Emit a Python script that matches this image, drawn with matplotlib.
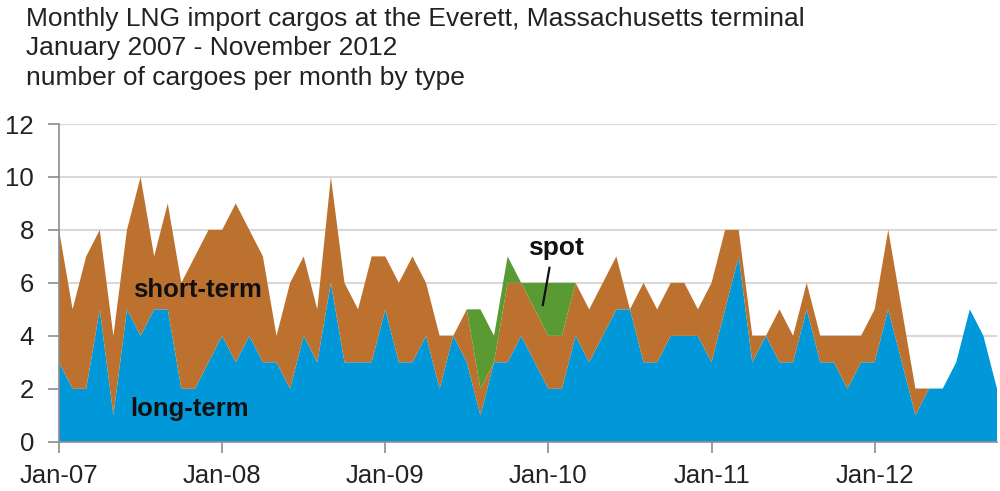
import matplotlib
matplotlib.use("Agg")
import matplotlib.pyplot as plt
import numpy as np

# Monthly cargoes, Jan 2007 onward
long_term = [3,2,2,5,1,5,4,5,5,2,2,3,4,3,4,3,3,2,4,3,6,3,3,3,5,3,3,4,2,4,
             3,1,3,3,4,3,2,2,4,3,4,5,5,3,3,4,4,4,3,5,7,3,4,3,3,5,3,3,2,3,
             3,5,3,1,2,2,3,5,4,2]
short_term = [5,3,5,3,3,3,6,2,4,4,5,5,4,6,4,4,1,4,3,2,4,3,2,4,2,3,4,2,2,0,
              2,1,0,3,2,2,2,2,2,2,2,2,0,3,2,2,2,1,3,3,1,1,0,2,1,1,1,1,2,1,
              2,3,2,1,0,0,0,0,0,0]
spot = [0,0,0,0,0,0,0,0,0,0,0,0,0,0,0,0,0,0,0,0,0,0,0,0,0,0,0,0,0,0,
        0,3,1,1,0,1,2,2,0,0,0,0,0,0,0,0,0,0,0,0,0,0,0,0,0,0,0,0,0,0,
        0,0,0,0,0,0,0,0,0,0]
tick_labels = ["Jan-07", "Jan-08", "Jan-09", "Jan-10", "Jan-11", "Jan-12"]
title_lines = ["Monthly LNG import cargos at the Everett, Massachusetts terminal",
               "January 2007 - November 2012",
               "number of cargoes per month by type"]

plt.rcParams['font.family'] = ['Liberation Sans', 'DejaVu Sans']

fig = plt.figure(figsize=(10, 4.91), dpi=100)
ax = fig.add_axes([0.059, 0.1004, 0.938, 0.647])

x = np.arange(len(long_term))
ax.stackplot(x, long_term, short_term, spot,
             colors=["#0098D8", "#BC722E", "#5A9A32"], linewidth=0)

ax.set_xlim(0, len(long_term) - 1)
ax.set_ylim(0, 12)
ax.set_yticks(range(0, 13, 2))
ax.set_xticks(range(0, len(long_term), 12))
ax.set_xticklabels(tick_labels[:len(range(0, len(long_term), 12))])
ax.grid(axis='y', color='#D9D9D9', linewidth=1.5)
ax.set_axisbelow(True)
for s in ['top', 'right']:
    ax.spines[s].set_visible(False)
for s in ['left', 'bottom']:
    ax.spines[s].set_color('#8C8C8C')
    ax.spines[s].set_linewidth(1.2)
ax.tick_params(axis='both', colors='#8C8C8C', length=8, width=1.2,
               labelsize=18.5, labelcolor='#222222')
ax.tick_params(axis='y', pad=10)
ax.tick_params(axis='x', pad=8)

ax.text(10.15, 5.73, "short-term", fontsize=18.5, fontweight='bold', ha='center',
        va='center', color='#111111')
ax.text(9.6, 1.24, "long-term", fontsize=18.5, fontweight='bold', ha='center',
        va='center', color='#111111')
ax.text(36.53, 7.33, "spot", fontsize=19, fontweight='bold', ha='center',
        va='center', color='#111111')
ax.plot([36.08, 35.59], [6.57, 5.16], color='#111111', linewidth=1.6)

for k, line in enumerate(title_lines):
    fig.text(0.026, 1 - (19 + 29.5 * k) / 491, line, fontsize=19,
             ha='left', va='center', color='#222222')

fig.savefig("out.png", dpi=100)
